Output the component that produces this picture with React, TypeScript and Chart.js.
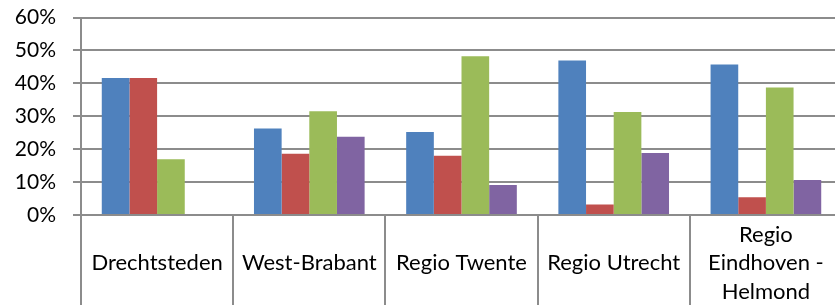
import React, { useEffect, useRef } from "react";
import { Chart, registerables } from "chart.js";

Chart.register(...registerables);

const categories: (string | string[])[] = [
  "Drechtsteden",
  "West-Brabant",
  "Regio Twente",
  "Regio Utrecht",
  ["Regio", "Eindhoven -", "Helmond"],
];

const seriesBlue = [41.6, 26.3, 25.2, 46.9, 45.7];
const seriesRed = [41.6, 18.6, 18.0, 3.2, 5.4];
const seriesGreen = [16.9, 31.5, 48.2, 31.3, 38.7];
const seriesPurple = [0, 23.8, 9.1, 18.8, 10.6];

const yTicks = [0, 10, 20, 30, 40, 50, 60];

const GRID = "#8c8c8c";
const FONT = "Lato";

export default function App() {
  const ref = useRef<HTMLCanvasElement | null>(null);

  useEffect(() => {
    if (!ref.current) return;
    const chart = new Chart(ref.current, {
      type: "bar",
      data: {
        labels: categories,
        datasets: [
          { label: "A", data: seriesBlue, backgroundColor: "#4F81BD" },
          { label: "B", data: seriesRed, backgroundColor: "#C0504D" },
          { label: "C", data: seriesGreen, backgroundColor: "#9BBB59" },
          { label: "D", data: seriesPurple, backgroundColor: "#8064A2" },
        ],
      },
      options: {
        responsive: false,
        animation: false,
        devicePixelRatio: 1,
        layout: {
          padding: { top: 17.5, left: 0, right: 0, bottom: 0 },
        },
        plugins: {
          legend: { display: false },
          title: { display: false },
          tooltip: { enabled: false },
        },
        datasets: {
          bar: { categoryPercentage: 0.727, barPercentage: 1 },
        },
        scales: {
          x: {
            offset: true,
            grid: {
              offset: true,
              drawOnChartArea: false,
              drawTicks: true,
              tickLength: 100,
              color: GRID,
              lineWidth: 2,
            },
            border: { display: true, color: GRID, width: 2 },
            ticks: {
              color: "#000",
              padding: -80,
              maxRotation: 0,
              autoSkip: false,
              crossAlign: "center",
              font: { family: FONT, size: 22, lineHeight: 1.29 },
            },
            afterFit: (s: any) => {
              s.height = 105;
              s.paddingLeft = 0;
              s.paddingRight = 0;
            },
          },
          y: {
            min: 0,
            max: 60,
            afterBuildTicks: (s: any) => {
              s.ticks = yTicks.map((v) => ({ value: v }));
            },
            grid: {
              color: GRID,
              lineWidth: 2,
              tickLength: 8,
              drawTicks: true,
            },
            border: { display: true, color: GRID, width: 2 },
            ticks: {
              color: "#000",
              padding: 17,
              font: { family: FONT, size: 21 },
              callback: (v: any) => `${v}%`,
            },
            afterFit: (s: any) => {
              s.width = 81;
              s.paddingTop = 0;
              s.paddingBottom = 0;
            },
          },
        },
      },
    });
    return () => chart.destroy();
  }, []);

  return (
    <div
      style={{
        position: "absolute",
        left: 0,
        top: 0,
        width: 835,
        height: 305,
        overflow: "hidden",
        background: "#fff",
      }}
    >
      <canvas ref={ref} width={842} height={320} style={{ display: "block" }} />
    </div>
  );
}
